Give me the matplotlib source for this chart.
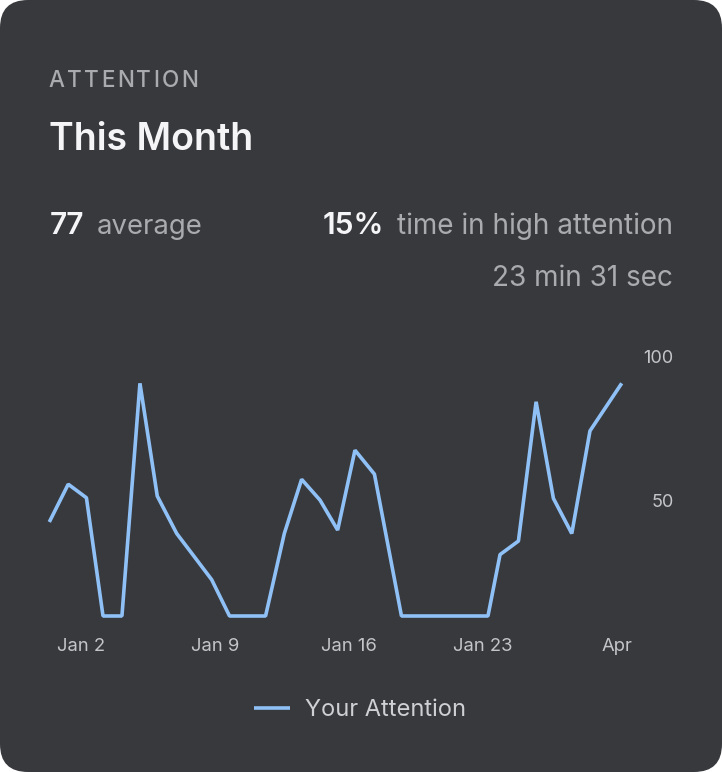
import matplotlib
matplotlib.use('Agg')
import matplotlib.pyplot as plt
from matplotlib.patches import FancyBboxPatch
from matplotlib.transforms import IdentityTransform

W, H = 722, 772

# данные (день месяца от 1 января, уровень внимания)
days = [0, 1.05, 2.06, 2.98, 4.03, 5.03, 5.99, 7.07, 8.03, 9.01, 10.0, 11.0, 12.0,
        13.04, 14.0, 15.02, 16.0, 16.96, 18.04, 19.54, 24.34, 25.01, 26.03, 27.01,
        27.97, 28.99, 30.0, 31.76]
attention = [42.6, 55.7, 51.0, 10, 10, 90.7, 51.6, 38.6, 30.7, 22.6, 10, 10, 10,
             38.6, 57.4, 50.2, 39.8, 67.5, 59.2, 10, 10, 31.3, 36.0, 84.3,
             50.8, 38.6, 74.2, 90.7]
x_tick_pos = [1.76, 9.19, 16.62, 24.05, 31.48]
x_tick_labels = ['Jan 2', 'Jan 9', 'Jan 16', 'Jan 23', 'Apr']
y_ticks = [50, 100]

section = 'ATTENTION'
period = 'This Month'
avg_value = '77'
high_share = '15%'
high_time = '23 min 31 sec'

# цвета
BG = '#38393d'
LINE = '#8fc1f7'
WHITE = '#f5f5f7'
GRAY = '#a9abaf'
TICK = '#c4c5c8'

plt.rcParams['font.family'] = ['Inter', 'DejaVu Sans']


def fx(px):
    return px / W


def fy(py):
    return 1 - py / H


fig = plt.figure(figsize=(W / 100, H / 100), dpi=100)
fig.patch.set_facecolor('white')

# карточка с закруглёнными углами
card = FancyBboxPatch((0, 0), W, H, boxstyle='round,pad=0,rounding_size=28',
                      transform=IdentityTransform(), facecolor=BG,
                      edgecolor='none', zorder=-1)
fig.add_artist(card)

renderer = fig.canvas.get_renderer()


def ink_width(s, **kw):
    t = fig.text(0, 0, s, **kw)
    w = t.get_window_extent(renderer).width
    t.remove()
    return w


def spaced_text(x_px, y_px, s, total_px, **kw):
    # текст с разрядкой букв
    natural = ink_width(s, **kw)
    gap = (total_px - natural) / (len(s) - 1)
    for i, ch in enumerate(s):
        start = ink_width(s[:i + 1], **kw) - ink_width(ch, **kw)
        fig.text(fx(x_px + start + i * gap), fy(y_px), ch, va='baseline', **kw)


spaced_text(48.3, 87.3, section, 150, fontsize=16.2, fontweight='medium', color=GRAY)
fig.text(fx(49.3), fy(150), period, fontsize=27, fontweight='semibold',
         color=WHITE, va='baseline')

fig.text(fx(49.3), fy(233.5), avg_value, fontsize=21.5, fontweight='semibold',
         color=WHITE, va='baseline')
fig.text(fx(96.7), fy(233.5), 'average', fontsize=19.8, color=GRAY, va='baseline')
fig.text(fx(322.7), fy(234), high_share, fontsize=21.5, fontweight='semibold',
         color=WHITE, va='baseline')
fig.text(fx(672.7), fy(234), 'time in high attention', fontsize=20.1, color=GRAY,
         va='baseline', ha='right')
fig.text(fx(672.7), fy(286), high_time, fontsize=20.1, color=GRAY,
         va='baseline', ha='right')

# график
ax = fig.add_axes([fx(49.3), fy(616), 572.4 / W, 259.5 / H])
ax.set_facecolor('none')
ax.plot(days, attention, color=LINE, lw=2.6, solid_joinstyle='bevel',
        solid_capstyle='butt', clip_on=False, label='Your Attention')
ax.set_xlim(0, 31.76)
ax.set_ylim(10, 100)
for s in ax.spines.values():
    s.set_visible(False)

ax.set_xticks(x_tick_pos, x_tick_labels)
ax.tick_params(axis='x', length=0, pad=15.5, labelsize=13.3, labelcolor=TICK)
ax.yaxis.tick_right()
ax.set_yticks(y_ticks)
ax.tick_params(axis='y', length=0, pad=37.2, labelsize=13, labelcolor=TICK)
plt.setp(ax.get_yticklabels(), ha='right')

ax.legend(loc='center left', bbox_to_anchor=(fx(254), fy(710)),
          bbox_transform=fig.transFigure, frameon=False, fontsize=17,
          handlelength=1.52, handletextpad=0.64, borderpad=0, borderaxespad=0,
          labelcolor='#cfd0d3')

fig.savefig('out.png', dpi=100, facecolor=fig.get_facecolor())
